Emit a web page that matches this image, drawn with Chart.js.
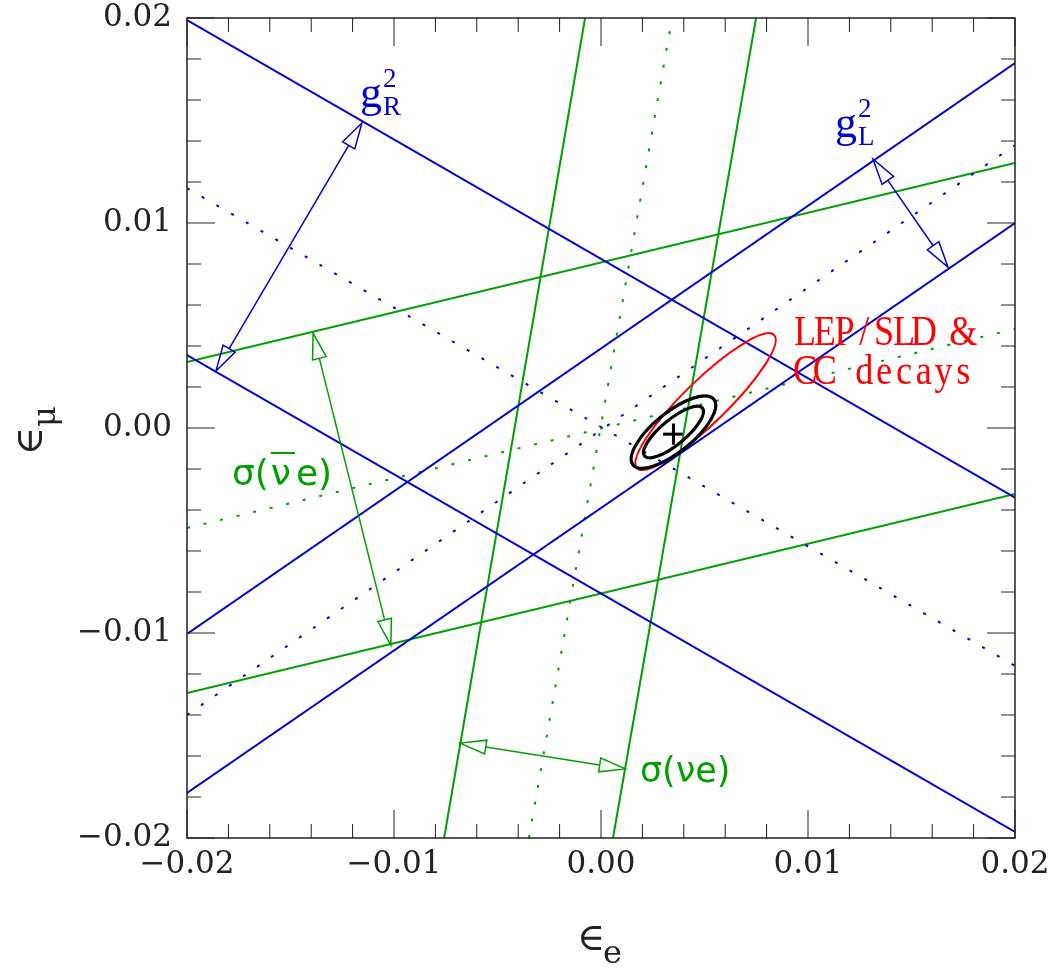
<!DOCTYPE html>
<html>
<head>
<meta charset="utf-8">
<script src="https://cdn.jsdelivr.net/npm/chart.js@4.4.1/dist/chart.umd.min.js"></script>
<style>
html,body{margin:0;padding:0;background:#fff;}
#wrap{position:relative;width:1056px;height:968px;}
</style>
</head>
<body>
<div id="wrap"><canvas id="c"></canvas></div>
<script>
/* epsilon_e vs epsilon_mu constraints */

// axes
const X_RANGE = [-0.02, 0.02];
const Y_RANGE = [-0.02, 0.02];
const MAJOR_TICKS = [-0.02, -0.01, 0, 0.01, 0.02];
const TICK_LABELS = ['−0.02', '−0.01', '0.00', '0.01', '0.02'];
const MINOR_TICKS = [-0.018, -0.016, -0.014, -0.012, -0.008, -0.006, -0.004, -0.002,
                     0.002, 0.004, 0.006, 0.008, 0.012, 0.014, 0.016, 0.018];

// g_R^2 band (blue, falling) : [eps_e, eps_mu] end points
const GR_HI  = [[-0.02, 0.0199],  [0.02, -0.0034]];
const GR_LO  = [[-0.02, 0.00356], [0.02, -0.0197]];
const GR_MID = [[-0.02, 0.0117],  [0.02, -0.0116]];

// g_L^2 band (blue, rising)
const GL_HI  = [[-0.02, -0.01005], [0.02, 0.0178]];
const GL_LO  = [[-0.02, -0.0178],  [0.02, 0.0100]];
const GL_MID = [[-0.02, -0.0140],  [0.02, 0.0138]];

// sigma(nubar e) band (green, shallow)
const NB_HI  = [[-0.02, 0.00322],  [0.02, 0.01293]];
const NB_LO  = [[-0.02, -0.01293], [0.02, -0.00322]];
const NB_MID = [[-0.02, -0.00488], [0.02, 0.00483]];

// sigma(nu e) band (green, steep)
const NU_LEFT  = [[-0.00758, -0.02], [-0.00077, 0.02]];
const NU_RIGHT = [[0.00058, -0.02],  [0.00749, 0.02]];
const NU_MID   = [[-0.00348, -0.02], [0.00343, 0.02]];

// ellipses: [centre x, centre y, major-axis end x, end y, semi-minor]
const ELL_LEP   = [0.00505, 0.00129, 0.00836, 0.00454, 0.00104];
const ELL_OUTER = [0.00350, -0.00020, 0.00545, 0.00140, 0.00095];
const ELL_INNER = [0.00350, -0.00020, 0.00490, 0.00097, 0.00060];

// best fit cross
const CROSS_H = [[0.00300, -0.00030], [0.00400, -0.00030]];
const CROSS_V = [[0.00350, 0.00022],  [0.00350, -0.00082]];

// double arrows between band edges
const ARROW_GR = [[-0.01155, 0.01488], [-0.0186, 0.00278]];
const ARROW_GL = [[0.01314, 0.01312],  [0.01676, 0.00785]];
const ARROW_NB = [[-0.01391, 0.00463], [-0.01015, -0.01059]];
const ARROW_NU = [[-0.00681, -0.01537], [0.00118, -0.01663]];

const BLUE = '#0000d0', GREEN = '#009f00', RED = '#ff0000';

const seg = (pts, color, dotted, w) => ({
  data: pts.map(([x, y]) => ({x, y})),
  showLine: true, pointRadius: 0, fill: false,
  borderColor: color, borderWidth: w || 2,
  borderDash: dotted ? [3, 14] : []
});

function drawEllipse(ctx, xs, ys, e, color, w){
  const [cx, cy, mx, my, b] = e;
  const px = xs.getPixelForValue(cx), py = ys.getPixelForValue(cy);
  const qx = xs.getPixelForValue(mx), qy = ys.getPixelForValue(my);
  const a = Math.hypot(qx - px, qy - py);
  const bp = Math.abs(xs.getPixelForValue(cx + b) - px);
  ctx.beginPath();
  ctx.ellipse(px, py, a, bp, Math.atan2(qy - py, qx - px), 0, Math.PI * 2);
  ctx.strokeStyle = color; ctx.lineWidth = w; ctx.stroke();
}

function drawArrow(ctx, xs, ys, pts, color){
  const p1 = [xs.getPixelForValue(pts[0][0]), ys.getPixelForValue(pts[0][1])];
  const p2 = [xs.getPixelForValue(pts[1][0]), ys.getPixelForValue(pts[1][1])];
  const L = Math.hypot(p2[0] - p1[0], p2[1] - p1[1]);
  const ux = (p2[0] - p1[0]) / L, uy = (p2[1] - p1[1]) / L;
  const hl = 26, hw = 7;
  ctx.strokeStyle = color; ctx.lineWidth = 1.5;
  ctx.beginPath();
  ctx.moveTo(p1[0] + ux * hl, p1[1] + uy * hl);
  ctx.lineTo(p2[0] - ux * hl, p2[1] - uy * hl);
  ctx.stroke();
  const head = (t, vx, vy) => {
    const bx = t[0] + vx * hl, by = t[1] + vy * hl;
    ctx.beginPath();
    ctx.moveTo(t[0], t[1]);
    ctx.lineTo(bx - vy * hw, by + vx * hw);
    ctx.lineTo(bx + vy * hw, by - vx * hw);
    ctx.closePath(); ctx.stroke();
  };
  head(p1, ux, uy); head(p2, -ux, -uy);
}

const overlay = {
  id: 'overlay',
  afterDatasetsDraw(chart){
    const {ctx, chartArea: a} = chart;
    const xs = chart.scales.x, ys = chart.scales.y;
    const P = (x, y) => [xs.getPixelForValue(x), ys.getPixelForValue(y)];
    ctx.save();

    drawEllipse(ctx, xs, ys, ELL_LEP, RED, 2);
    drawEllipse(ctx, xs, ys, ELL_OUTER, '#000', 3.2);
    drawEllipse(ctx, xs, ys, ELL_INNER, '#000', 3.2);

    drawArrow(ctx, xs, ys, ARROW_GR, BLUE);
    drawArrow(ctx, xs, ys, ARROW_GL, BLUE);
    drawArrow(ctx, xs, ys, ARROW_NB, GREEN);
    drawArrow(ctx, xs, ys, ARROW_NU, GREEN);

    // g labels
    ctx.textAlign = 'left'; ctx.textBaseline = 'alphabetic';
    const gLabel = (x, y, sub) => {
      const [px, py] = P(x, y);
      ctx.fillStyle = BLUE;
      ctx.font = '44px "Liberation Serif"';
      ctx.fillText('g', px, py);
      ctx.font = '27px "Liberation Serif"';
      ctx.fillText(sub, px + 23, py + 8);
      ctx.fillText('2', px + 23, py - 20);
    };
    gLabel(-0.01164, 0.01566, 'R');
    gLabel(0.0113, 0.0142, 'L');

    // LEP/SLD label, fixed-pitch cells
    const mono = (text, px, py) => {
      ctx.save(); ctx.translate(px, py); ctx.scale(0.86, 1);
      ctx.font = '42px "Liberation Serif"'; ctx.fillStyle = RED;
      const cell = 19.8 / 0.86;
      for (let i = 0; i < text.length; i++){
        const w = ctx.measureText(text[i]).width;
        ctx.fillText(text[i], i * cell + (cell - w) / 2, 0);
      }
      ctx.restore();
    };
    const [lx, ly] = P(0.00947, 0.00405);
    mono('LEP/SLD &', lx - 2, ly);
    mono('CC decays', lx - 2, ly + 39);

    // sigma labels
    ctx.fillStyle = GREEN; ctx.strokeStyle = GREEN;
    ctx.font = '35px "DejaVu Sans"';
    const [sx, sy] = P(0.00188, -0.01727);
    ctx.fillText('σ(νe)', sx, sy);
    const [bx, by] = P(-0.01783, -0.00278);
    ctx.font = '36px "DejaVu Sans"';
    const w1 = ctx.measureText('σ(').width, w2 = ctx.measureText('ν').width;
    ctx.fillText('σ(', bx, by);
    ctx.fillText('ν', bx + w1 + 2, by);
    ctx.fillText('e)', bx + w1 + w2 + 7, by);
    ctx.lineWidth = 2;
    ctx.beginPath(); ctx.moveTo(bx + w1 + 2, by - 32); ctx.lineTo(bx + w1 + w2 + 6, by - 32); ctx.stroke();

    // frame and inward ticks
    ctx.strokeStyle = '#222'; ctx.lineWidth = 1.5;
    ctx.strokeRect(a.left, a.top, a.right - a.left, a.bottom - a.top);
    ctx.lineWidth = 1;
    const ticks = (vals, len) => {
      vals.forEach(v => {
        const px = xs.getPixelForValue(v), py = ys.getPixelForValue(v);
        ctx.beginPath();
        ctx.moveTo(px, a.bottom); ctx.lineTo(px, a.bottom - len);
        ctx.moveTo(px, a.top); ctx.lineTo(px, a.top + len);
        ctx.moveTo(a.left, py); ctx.lineTo(a.left + len, py);
        ctx.moveTo(a.right, py); ctx.lineTo(a.right - len, py);
        ctx.stroke();
      });
    };
    ticks(MAJOR_TICKS, 28);
    ticks(MINOR_TICKS, 14);

    // axis titles
    ctx.fillStyle = '#222';
    ctx.font = '38px "DejaVu Serif", "DejaVu Sans"';
    ctx.fillText('∈', 577, 950);
    ctx.font = '32px "DejaVu Serif"';
    ctx.fillText('e', 603, 963);
    ctx.translate(42, 455); ctx.rotate(-Math.PI / 2);
    ctx.font = '38px "DejaVu Serif", "DejaVu Sans"';
    ctx.fillText('∈', 0, 0);
    ctx.font = '32px "DejaVu Serif"';
    ctx.fillText('μ', 28, 13);

    ctx.restore();
  }
};

const tickFont = {family: '"DejaVu Serif"', size: 31};
const setTicks = s => { s.ticks = MAJOR_TICKS.map(v => ({value: v})); };
const tickLabel = v => TICK_LABELS[MAJOR_TICKS.findIndex(t => Math.abs(t - v) < 1e-9)];

new Chart(document.getElementById('c'), {
  type: 'scatter',
  data: {
    datasets: [
      seg(GR_HI, BLUE), seg(GR_LO, BLUE), seg(GR_MID, BLUE, true),
      seg(GL_HI, BLUE), seg(GL_LO, BLUE), seg(GL_MID, BLUE, true),
      seg(NB_HI, GREEN), seg(NB_LO, GREEN), seg(NB_MID, GREEN, true),
      seg(NU_LEFT, GREEN), seg(NU_RIGHT, GREEN), seg(NU_MID, GREEN, true),
      seg(CROSS_H, '#000', false, 3), seg(CROSS_V, '#000', false, 3)
    ]
  },
  options: {
    responsive: true,
    maintainAspectRatio: false,
    animation: false,
    events: [],
    layout: {padding: {left: 0, right: 41, top: 18, bottom: 0}},
    plugins: {legend: {display: false}, tooltip: {enabled: false}},
    scales: {
      x: {
        type: 'linear', min: X_RANGE[0], max: X_RANGE[1],
        grid: {display: false, drawTicks: false},
        border: {display: false},
        afterBuildTicks: setTicks,
        afterFit: s => { s.height = 130; s.paddingLeft = 0; s.paddingRight = 0; },
        ticks: {font: tickFont, color: '#222', padding: 8, maxRotation: 0, autoSkip: false, callback: tickLabel}
      },
      y: {
        type: 'linear', min: Y_RANGE[0], max: Y_RANGE[1],
        grid: {display: false, drawTicks: false},
        border: {display: false},
        afterBuildTicks: setTicks,
        afterFit: s => { s.width = 187; s.paddingTop = 0; s.paddingBottom = 0; },
        ticks: {font: tickFont, color: '#222', padding: 15, autoSkip: false, callback: tickLabel}
      }
    }
  },
  plugins: [overlay]
});
</script>
</body>
</html>
